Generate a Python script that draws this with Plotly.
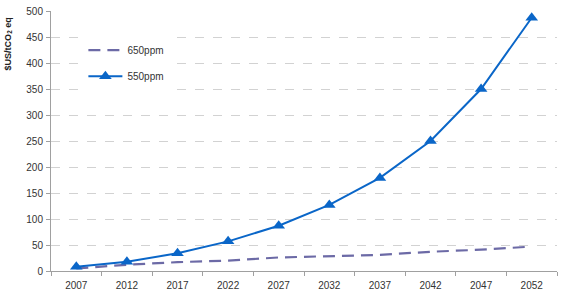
import plotly.graph_objects as go

years = ["2007", "2012", "2017", "2022", "2027", "2032", "2037", "2042", "2047", "2052"]
ppm550 = [8, 18, 34, 57, 87, 127, 179, 250, 350, 487]
ppm650 = [5, 12, 17, 20, 26, 29, 31, 37, 41, 47]
y_ticks = [0, 50, 100, 150, 200, 250, 300, 350, 400, 450, 500]

fig = go.Figure()
fig.add_trace(go.Scatter(
    x=years, y=ppm650, name="650ppm", mode="lines",
    line=dict(color="#6C6AA6", width=2.2, dash="12px,7px"),
    legendgroup="a",
))
fig.add_trace(go.Scatter(
    x=years, y=ppm550, name="550ppm", mode="lines+markers",
    line=dict(color="#0A66C8", width=2),
    marker=dict(symbol="triangle-up", size=11, color="#0A66C8"),
    legendgroup="b",
))

fig.update_layout(
    width=562, height=303,
    margin=dict(l=51, r=5, t=8, b=32),
    paper_bgcolor="white", plot_bgcolor="white",
    font=dict(family="Liberation Sans, Arial, sans-serif", size=10, color="#333333"),
    showlegend=True,
    legend=dict(
        x=0.064, y=0.905, xanchor="left", yanchor="top",
        bgcolor="white", borderwidth=0,
        font=dict(size=10, color="#333333"),
        tracegroupgap=7, itemwidth=34,
    ),
    xaxis=dict(
        type="category", tickson="boundaries", ticks="outside", ticklen=4,
        tickcolor="#A0A0A0", showline=True, linecolor="#A0A0A0", linewidth=1,
        showgrid=False, range=[-0.5, 9.5], ticklabelstandoff=5,
    ),
    yaxis=dict(
        range=[0, 500], tickvals=y_ticks, ticks="outside", ticklen=4,
        tickcolor="#A0A0A0", showline=True, linecolor="#A0A0A0", linewidth=1,
        showgrid=True, gridcolor="#D2D2D2", griddash="dash", gridwidth=1,
        zeroline=False, ticklabelstandoff=1,
    ),
    annotations=[dict(
        text="<b>$US/tCO<sub>2</sub> eq</b>", textangle=-90,
        xref="paper", yref="paper", x=-0.085, y=0.985, xanchor="center", yanchor="top",
        showarrow=False, font=dict(size=9, color="#222222"),
    )],
)

fig.write_html("out.html")
